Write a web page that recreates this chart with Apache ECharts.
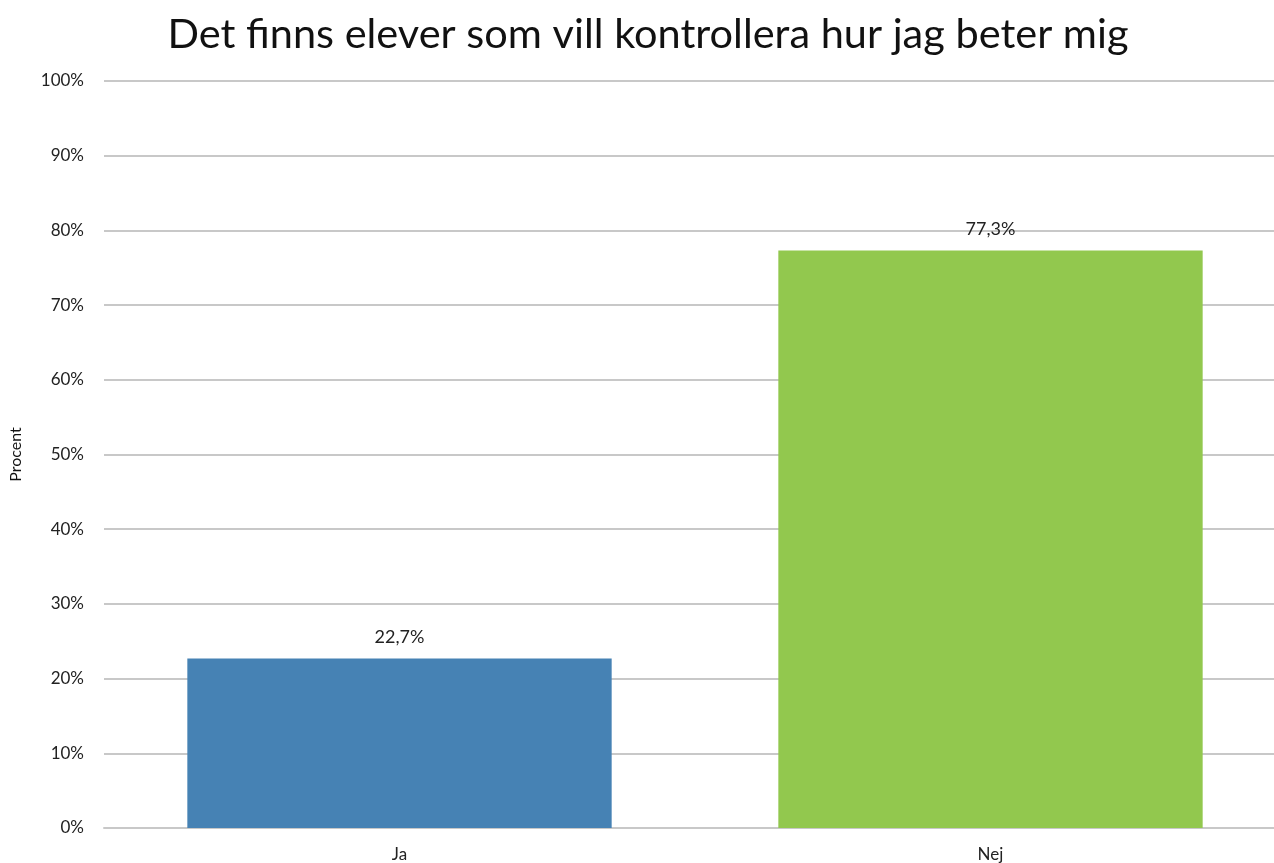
<!DOCTYPE html>
<html><head><meta charset="utf-8">
<script src="https://cdn.jsdelivr.net/npm/echarts@6/dist/echarts.min.js"></script>
<style>html,body{margin:0;padding:0;background:#fff;overflow:hidden}#c{width:1290px;height:863px}</style>
</head><body><div id="c"></div>
<script>
const titleText = 'Det finns elever som vill kontrollera hur jag beter mig';
const categories = ['Ja', 'Nej'];
const values = [22.7, 77.3];
const barColors = ['#4682B4', '#92C84E'];
const yAxisName = 'Procent';
const F = 'Lato, "Open Sans", sans-serif';
const chart = echarts.init(document.getElementById('c'));
chart.setOption({
  animation: false,
  title: {text: titleText, left: 643, textAlign: 'center', top: 9,
    textStyle: {fontFamily: F, fontSize: 41.5, fontWeight: 'normal', color: '#111'}},
  grid: {left: 100, top: 81, width: 1186, height: 747, containLabel: false},
  xAxis: {type: 'category', data: categories,
    axisLine: {lineStyle: {color: '#c8c8c8', width: 2}}, axisTick: {show: false},
    axisLabel: {fontFamily: F, fontSize: 17, color: '#222', margin: 18}},
  yAxis: {type: 'value', min: 0, max: 100, interval: 10,
    name: yAxisName, nameLocation: 'middle', nameGap: 80,
    nameTextStyle: {fontFamily: F, fontSize: 16, color: '#111'},
    axisLabel: {formatter: '{value}%', fontFamily: F, fontSize: 17, color: '#222', margin: 20},
    splitLine: {lineStyle: {color: '#c8c8c8', width: 2}}, axisLine: {show: false}, axisTick: {show: false}},
  series: [{type: 'bar', barWidth: '71.8%',
    data: values.map((v, i) => ({value: v, itemStyle: {color: barColors[i]}})),
    label: {show: true, position: 'top', distance: 12, fontFamily: F, fontSize: 18, color: '#222',
      formatter: p => p.value.toFixed(1).replace('.', ',') + '%'}}]
});
</script></body></html>
